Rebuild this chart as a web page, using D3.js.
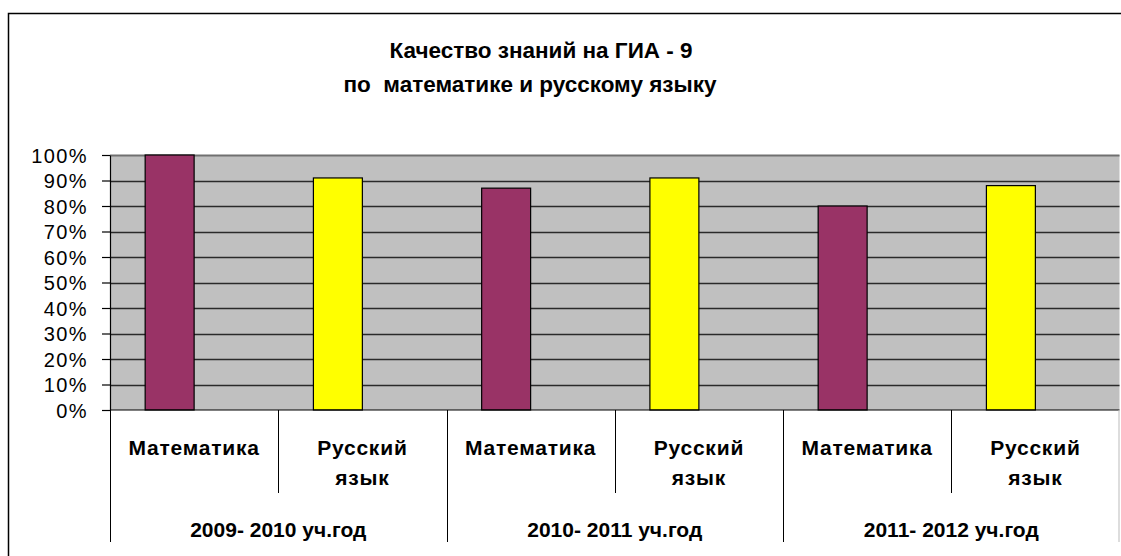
<!DOCTYPE html>
<html>
<head>
<meta charset="utf-8">
<script src="https://cdn.jsdelivr.net/npm/d3@7"></script>
<style>
  body { margin: 0; background: #fff; overflow: hidden; }
  svg { display: block; font-family: "Liberation Sans", Arial, sans-serif; }
</style>
</head>
<body>
<svg id="chart" width="1121" height="556"></svg>
<script>
// data
var years = ["2009- 2010 уч.год", "2010- 2011 уч.год", "2011- 2012 уч.год"];
var subjects = ["Математика", "Русский язык"];
var mathValues = [100, 87, 80];
var russianValues = [91, 91, 88];
var yTicks = [0, 10, 20, 30, 40, 50, 60, 70, 80, 90, 100];
var titleLines = ["Качество знаний на ГИА - 9", "по  математике и русскому языку"];

var margin = { top: 155, right: 1, bottom: 146, left: 110 };
var W = 1121, H = 556;

var svg = d3.select("#chart");

// outer chart frame (runs off right/bottom edge)
svg.append("rect")
    .attr("x", 8.5).attr("y", 13.5)
    .attr("width", 1200).attr("height", 600)
    .attr("fill", "#fff")
    .attr("stroke", "#000")
    .attr("stroke-width", 1.5);

// title (second line sits a bit left in the original)
var titleX = [541, 530];
svg.append("g").selectAll("text")
    .data(titleLines)
    .enter().append("text")
    .attr("x", (d, i) => titleX[i])
    .attr("y", (d, i) => 58 + i * 34)
    .attr("text-anchor", "middle")
    .attr("font-size", 22.5)
    .attr("font-weight", "bold")
    .attr("xml:space", "preserve")
    .style("white-space", "pre")
    .text(d => d);

// one slot per year and subject; only the first half of a slot holds a bar
var cats = [];
years.forEach((yr, i) => {
    cats.push({ id: yr + "|m", year: yr, subject: subjects[0], value: mathValues[i], color: "#993366" });
    cats.push({ id: yr + "|r", year: yr, subject: subjects[1], value: russianValues[i], color: "#FFFF00" });
});

var x0 = d3.scaleBand()
    .domain(cats.map(d => d.id))
    .range([margin.left, W - margin.right - 0.5]);

var x1 = d3.scaleBand()
    .domain(["s1", "s2"])
    .range([0, x0.bandwidth()])
    .paddingInner(0)
    .paddingOuter(0.718);

var y = d3.scaleLinear()
    .domain([0, 100])
    .range([H - margin.bottom, margin.top]);

var plotRight = x0.range()[1];

// plot area
svg.append("rect")
    .attr("x", margin.left).attr("y", y(100))
    .attr("width", plotRight - margin.left)
    .attr("height", y(0) - y(100))
    .attr("fill", "#C0C0C0");

// gridlines
svg.append("g").selectAll("line")
    .data(yTicks.filter(t => t > 0 && t < 100))
    .enter().append("line")
    .attr("x1", margin.left).attr("x2", plotRight)
    .attr("y1", d => Math.round(y(d)) + 0.5).attr("y2", d => Math.round(y(d)) + 0.5)
    .attr("stroke", "#2a2a2a")
    .attr("stroke-width", 1.6);

svg.append("line")
    .attr("x1", margin.left).attr("x2", plotRight)
    .attr("y1", y(100) + 0.5).attr("y2", y(100) + 0.5)
    .attr("stroke", "#707070")
    .attr("stroke-width", 2);

// bars
svg.append("g").selectAll("rect")
    .data(cats)
    .enter().append("rect")
    .attr("x", d => x0(d.id) + x1("s1"))
    .attr("y", d => y(d.value))
    .attr("width", x1.bandwidth())
    .attr("height", d => y(0) - y(d.value))
    .attr("fill", d => d.color)
    .attr("stroke", "#000")
    .attr("stroke-width", 1.2);

// y axis
var yAxis = svg.append("g")
    .attr("transform", `translate(${margin.left},0)`)
    .call(d3.axisLeft(y).tickValues(yTicks).tickFormat(d => d + "%").tickSize(8).tickSizeOuter(0));
yAxis.select(".domain").attr("stroke", "#000").attr("stroke-width", 1.2);
yAxis.selectAll(".tick line").attr("stroke", "#000").attr("stroke-width", 1.2);
yAxis.selectAll(".tick text")
    .attr("x", -22)
    .attr("dy", "0.36em")
    .attr("font-size", 20)
    .attr("letter-spacing", 1.4)
    .attr("font-family", "Liberation Sans, Arial, sans-serif")
    .attr("fill", "#000");

// category axis line
svg.append("line")
    .attr("x1", margin.left).attr("x2", plotRight)
    .attr("y1", y(0)).attr("y2", y(0))
    .attr("stroke", "#000").attr("stroke-width", 1.2);

// category separators
var seps = svg.append("g");
cats.forEach((d, i) => {
    var xs = Math.round(x0(d.id)) + 0.5;
    var long = i % 2 === 0;
    seps.append("line")
        .attr("x1", xs).attr("x2", xs)
        .attr("y1", y(0)).attr("y2", long ? 542 : 493)
        .attr("stroke", "#000").attr("stroke-width", 1);
});
seps.append("line")
    .attr("x1", plotRight - 0.5).attr("x2", plotRight - 0.5)
    .attr("y1", y(0)).attr("y2", 542)
    .attr("stroke", "#bbb").attr("stroke-width", 1);

// subject labels
var subj = svg.append("g")
    .attr("font-size", 21)
    .attr("font-weight", "bold")
    .attr("letter-spacing", 0.8)
    .attr("text-anchor", "middle");
cats.forEach(d => {
    var words = d.subject.split(" ");
    words.forEach((w, j) => {
        subj.append("text")
            .attr("x", x0(d.id) + x0.bandwidth() / 2)
            .attr("y", 455 + j * 30)
            .text(w);
    });
});

// year labels
svg.append("g").selectAll("text")
    .data(years)
    .enter().append("text")
    .attr("x", d => x0(d + "|m") + x0.bandwidth())
    .attr("y", 537)
    .attr("text-anchor", "middle")
    .attr("font-size", 21)
    .attr("font-weight", "bold")
    .text(d => d);
</script>
</body>
</html>
